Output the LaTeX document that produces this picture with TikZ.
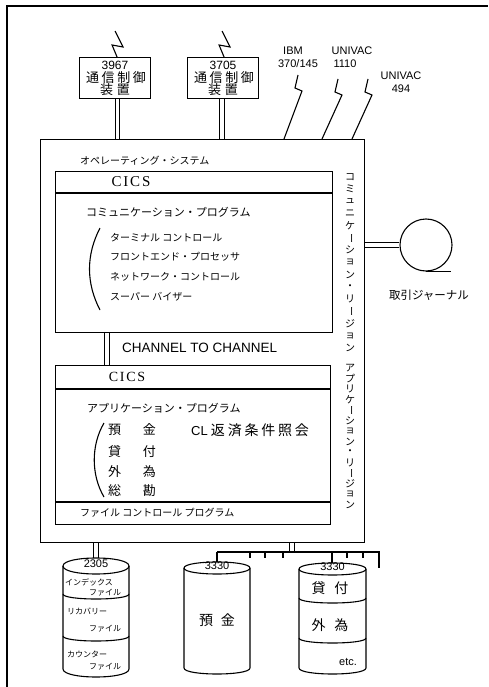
\documentclass[tikz,border=0pt]{standalone}
\usepackage{fontspec}
\setmainfont{Noto Sans CJK JP}
\newfontfamily\jp{Noto Sans CJK JP}
\newfontfamily\lat{Liberation Sans}
\newfontfamily\ser{Liberation Serif}
\usetikzlibrary{calc}
\newcommand\fs[1]{\fontsize{#1}{#1}\selectfont}
\newcommand\vbar{\rotatebox[origin=c]{-90}{ー}}
\newcommand\mycyl[7]{% xl xr ys yb b label-y label
  \draw[ln] (#1,#3) .. controls (#1,{#3-1.333*#5}) and (#2,{#3-1.333*#5}) .. (#2,#3)
    -- (#2,#4) .. controls (#2,{#4+1.333*#5}) and (#1,{#4+1.333*#5}) .. (#1,#4) -- cycle;
  \draw[ln] (#1,#3) .. controls (#1,{#3+1.333*#5}) and (#2,{#3+1.333*#5}) .. (#2,#3);
  \node[lbl,font=\lat\fs{11}] at ({(#1+#2)/2},#6) {#7};
}
\newcommand\mysep[4]{% xl xr y b
  \draw[ln] (#1,#3) .. controls (#1,{#3+1.333*#4}) and (#2,{#3+1.333*#4}) .. (#2,#3);
}
\tikzset{
  ln/.style={line width=1.1pt},
  boxn/.style={draw,line width=1.1pt,inner sep=0pt,anchor=north west},
  dbl/.style={draw,double,double distance=3.5pt,line width=0.9pt},
  lbl/.style={inner sep=0pt},
  lw/.style={inner sep=0pt,anchor=west},
  vt/.style={inner sep=0pt,font=\jp\fs{10}},
}
\begin{document}
\begin{tikzpicture}[x=1pt,y=-1pt]
\useasboundingbox (0,0) rectangle (488,687);
% outer frame
\draw[line width=1.2pt] (7,687) -- (7,6) -- (488,6);

% main box
\node[boxn,minimum width=324pt,minimum height=403pt] (main) at (40,139) {};

% communication controllers
\node[boxn,minimum width=71pt,minimum height=41pt] (b1) at (79,57) {};
\node[boxn,minimum width=71pt,minimum height=41pt] (b2) at (187,57) {};
\node[lbl,font=\lat\fs{12}] at (115,65) {3967};
\node[lbl,font=\jp\fs{13}\addfontfeature{LetterSpace=20}] at (116,78) {通信制御};
\node[lbl,font=\jp\fs{13}] at (115,90) {装\hspace{4pt}置};
\node[lbl,font=\lat\fs{12}] at (223,65) {3705};
\node[lbl,font=\jp\fs{13}\addfontfeature{LetterSpace=20}] at (224,78) {通信制御};
\node[lbl,font=\jp\fs{13}] at (223,90) {装\hspace{4pt}置};
\draw[dbl] ([xshift=2.5pt]b1.south) -- ([xshift=2.5pt]b1.south |- main.north);
\draw[dbl] ([xshift=-1pt]b2.south) -- ([xshift=-1pt]b2.south |- main.north);
\draw[ln] ([xshift=2pt]b1.north) -- ++(-5,-12) -- ++(11,2) -- ++(-8,-16);
\draw[ln] ([xshift=1pt]b2.north) -- ++(-5,-12) -- ++(11,2) -- ++(-8,-16);

% remote hosts
\draw[ln] ([xshift=244pt]main.north west) -- ++(18,-48) -- ++(-7,-3) -- ++(3,-13);
\draw[ln] ([xshift=282pt]main.north west) -- ++(20,-44) -- ++(-7,-3) -- ++(3,-13);
\draw[ln] ([xshift=312pt]main.north west) -- ++(20,-44) -- ++(-7,-3) -- ++(3,-13);
\node[lbl,font=\lat\fs{11}] at (293,51) {IBM};
\node[lbl,font=\lat\fs{11}] at (298,64) {370/145};
\node[lbl,font=\lat\fs{11}] at (352,51) {UNIVAC};
\node[lbl,font=\lat\fs{11}] at (345,64) {1110};
\node[lbl,font=\lat\fs{11}] at (401,76) {UNIVAC};
\node[lbl,font=\lat\fs{11}] at (401,89) {494};

% operating system
\node[lw,font=\jp\fs{10}] at (80,161) {オペレーティング・システム};

% communication region
\node[boxn,minimum width=277pt,minimum height=161pt] (cb) at (55,171) {};
\draw[ln] ([yshift=-22pt]cb.north west) -- ([yshift=-22pt]cb.north east);
\node[lbl,font=\ser\fs{15}\addfontfeature{LetterSpace=12}] at (131,182) {CICS};
\node[lw,font=\jp\fs{11}] at (86,212) {コミュニケーション・プログラム};
\draw[ln] (100,228) .. controls (86,255) and (86,283) .. (100,310);
\node[lw,font=\jp\fs{10}] at (110,238) {ターミナル コントロール};
\node[lw,font=\jp\fs{10}] at (110,257) {フロントエンド・プロセッサ};
\node[lw,font=\jp\fs{10}] at (110,277) {ネットワーク・コントロール};
\node[lw,font=\jp\fs{10}] at (110,297) {スーパー バイザー};

% channel to channel
\node[boxn,minimum width=275pt,minimum height=159pt] (ab) at (55,365) {};
\draw[dbl] ([xshift=52pt]cb.south west) -- ([xshift=52pt]cb.south west |- ab.north);
\node[lw,font=\lat\fs{13.5}] at (122,348) {CHANNEL TO CHANNEL};

% application region
\draw[ln] ([yshift=-24pt]ab.north west) -- ([yshift=-24pt]ab.north east);
\draw[ln] ([yshift=-137pt]ab.north west) -- ([yshift=-137pt]ab.north east);
\node[lbl,font=\ser\fs{14}\addfontfeature{LetterSpace=12}] at (127,377) {CICS};
\node[lw,font=\jp\fs{11}] at (87,408) {アプリケーション・プログラム};
\draw[ln] (104,423) .. controls (91,445) and (91,475) .. (104,497);
\node[lbl,font=\jp\fs{13}] at (132,430) {預\hspace{22pt}金};
\node[lbl,font=\jp\fs{13}] at (132,452) {貸\hspace{22pt}付};
\node[lbl,font=\jp\fs{13}] at (132,472) {外\hspace{22pt}為};
\node[lbl,font=\jp\fs{13}] at (132,491) {総\hspace{22pt}勘};
\node[lw,font=\jp\fs{14}] at (191,430) {{\lat\fs{13}CL} \addfontfeature{LetterSpace=20}返済条件照会};
\node[lw,font=\jp\fs{10}] at (80,513) {ファイル コントロール プログラム};

% vertical region labels
\foreach \c [count=\i from 0] in {コ,ミ,ュ,ニ,ケ,\vbar,シ,ョ,ン,・,リ,\vbar,ジ,ョ,ン}
  \node[vt] at (350,{177+\i*12.2}) {\c};
\foreach \c [count=\i from 0] in {ア,プ,リ,ケ,\vbar,シ,ョ,ン,・,リ,\vbar,ジ,ョ,ン}
  \node[vt] at (350,{368+\i*10.5}) {\c};

% journal
\node[circle,draw,line width=1.1pt,minimum size=52pt,inner sep=0pt] (jr) at (426,245) {};
\draw[dbl] (jr.west -| main.east) -- (jr.west);
\draw[ln] (jr.south) -- ++(25,0);
\node[lbl,font=\jp\fs{11.5}] at (429,295) {取引ジャーナル};

% disk 2305
\coordinate (c1) at (96,558);
\draw[dbl] (c1 |- main.south) -- (c1);
\mycyl{63}{129}{566}{669}{8}{564}{2305}
\mysep{63}{129}{594}{5}
\mysep{63}{129}{636}{5}
\node[lw,font=\jp\fs{8}] at (65,582) {インデックス};
\node[lw,font=\jp\fs{8}] at (89,593) {ファイル};
\node[lw,font=\jp\fs{8}] at (67,611) {リカバリー};
\node[lw,font=\jp\fs{8}] at (89,629) {ファイル};
\node[lw,font=\jp\fs{8}] at (67,654) {カウンター};
\node[lw,font=\jp\fs{8}] at (89,667) {ファイル};

% bus to 3330 disks
\coordinate (bus) at (292,552);
\coordinate (busL) at (217,552);
\coordinate (busR) at (379,552);
\coordinate (c2) at (217,562);
\coordinate (c3) at (332,563);
\draw[dbl] (bus |- main.south) -- (bus);
\draw[ln] (busL) -- (busR) -- ++(0,16);
\draw[ln] (busL) -- (c2);
\draw[ln] (busL -| c3) -- (c3);
\foreach \x in {250,265,283,347,363} \draw[ln] (\x,552) -- (\x,558);

\mycyl{184}{250}{568}{668}{6}{566}{3330}
\node[lbl,font=\jp\fs{14}] at (217,620) {預\hspace{8pt}金};

\mycyl{299}{366}{569}{668}{6}{567}{3330}
\mysep{299}{366}{598}{5}
\mysep{299}{366}{638}{5}
\node[lbl,font=\jp\fs{14}] at (330,588) {貸\hspace{9pt}付};
\node[lbl,font=\jp\fs{14}] at (330,625) {外\hspace{9pt}為};
\node[lbl,font=\lat\fs{11}] at (348,662) {etc.};
\end{tikzpicture}
\end{document}
